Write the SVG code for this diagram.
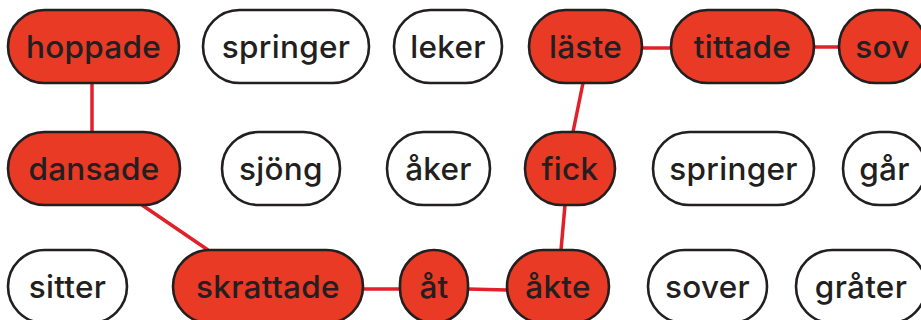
<svg xmlns="http://www.w3.org/2000/svg" width="921" height="320" viewBox="0 0 921 320">
<style>
.pill{stroke:#231f20;stroke-width:2.6}
.on{fill:#e83a24}
.off{fill:#ffffff}
.lbl{font-family:Inter,"Noto Sans","DejaVu Sans",sans-serif;font-size:31.5px;font-weight:500;fill:#231f20;text-anchor:middle;letter-spacing:0.3px}
.edge{stroke:#e1202a;stroke-width:3.5;fill:none}
</style>
<rect width="921" height="320" fill="#ffffff"/>
<g id="connectors">
<line class="edge" x1="92" y1="83" x2="92" y2="132"/>
<line class="edge" x1="642" y1="48" x2="671" y2="48"/>
<line class="edge" x1="814" y1="47" x2="839" y2="47"/>
<line class="edge" x1="583" y1="83" x2="573" y2="132"/>
<line class="edge" x1="565" y1="205" x2="561" y2="250"/>
<line class="edge" x1="142" y1="205" x2="208" y2="250"/>
<line class="edge" x1="363" y1="289" x2="400" y2="289"/>
<line class="edge" x1="468" y1="289" x2="507" y2="290"/>
</g>
<g id="hoppade"><rect class="pill on" x="8" y="10" width="171" height="73" rx="36.5"/><text class="lbl" x="93.5" y="57.5">hoppade</text></g>
<g id="springer1"><rect class="pill off" x="203" y="10" width="166" height="73" rx="36.5"/><text class="lbl" x="286" y="57.5">springer</text></g>
<g id="leker"><rect class="pill off" x="394" y="10" width="108" height="73" rx="36.5"/><text class="lbl" x="448" y="57.5">leker</text></g>
<g id="laste"><rect class="pill on" x="529" y="10" width="113" height="73" rx="36.5"/><text class="lbl" x="585.5" y="57.5">läste</text></g>
<g id="tittade"><rect class="pill on" x="671" y="10" width="143" height="73" rx="36.5"/><text class="lbl" x="742.5" y="57.5">tittade</text></g>
<g id="sov"><rect class="pill on" x="839" y="10" width="87" height="73" rx="36.5"/><text class="lbl" x="882.5" y="57.5">sov</text></g>
<g id="dansade"><rect class="pill on" x="8" y="132" width="172" height="73" rx="36.5"/><text class="lbl" x="94" y="180">dansade</text></g>
<g id="sjong"><rect class="pill off" x="222" y="132" width="118" height="73" rx="36.5"/><text class="lbl" x="281" y="180">sjöng</text></g>
<g id="aker"><rect class="pill off" x="387" y="132" width="103" height="73" rx="36.5"/><text class="lbl" x="438.5" y="180">åker</text></g>
<g id="fick"><rect class="pill on" x="525" y="132" width="90" height="73" rx="36.5"/><text class="lbl" x="570" y="180">fick</text></g>
<g id="springer2"><rect class="pill off" x="653" y="132" width="161" height="73" rx="36.5"/><text class="lbl" x="733.5" y="180">springer</text></g>
<g id="gar"><rect class="pill off" x="843" y="132" width="83" height="73" rx="36.5"/><text class="lbl" x="884.5" y="180">går</text></g>
<g id="sitter"><rect class="pill off" x="8" y="250" width="119" height="73" rx="36.5"/><text class="lbl" x="67.5" y="298">sitter</text></g>
<g id="skrattade"><rect class="pill on" x="173" y="250" width="190" height="73" rx="36.5"/><text class="lbl" x="268" y="298">skrattade</text></g>
<g id="at"><rect class="pill on" x="400" y="250" width="68" height="73" rx="34"/><text class="lbl" x="434" y="298">åt</text></g>
<g id="akte"><rect class="pill on" x="507" y="250" width="102" height="73" rx="36.5"/><text class="lbl" x="558" y="298">åkte</text></g>
<g id="sover"><rect class="pill off" x="648" y="250" width="119" height="73" rx="36.5"/><text class="lbl" x="707.5" y="298">sover</text></g>
<g id="grater"><rect class="pill off" x="796" y="250" width="130" height="73" rx="36.5"/><text class="lbl" x="861" y="298">gråter</text></g>
</svg>
